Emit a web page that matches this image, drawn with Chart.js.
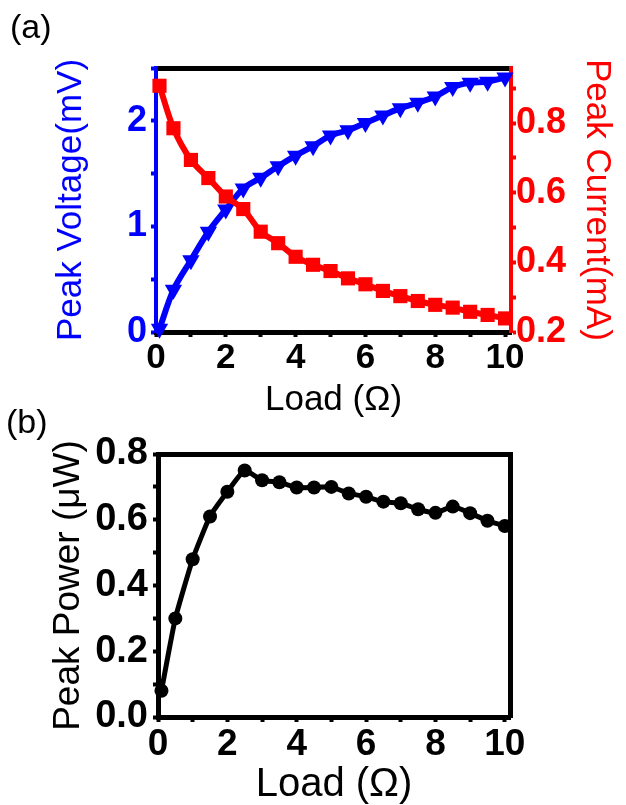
<!DOCTYPE html>
<html>
<head>
<meta charset="utf-8">
<script src="https://cdn.jsdelivr.net/npm/chart.js@4.4.0/dist/chart.umd.min.js"></script>
<style>
	html, body { margin: 0; padding: 0; background: #fff; overflow: hidden; }
	#wrap { position: relative; width: 626px; height: 805px; }
	canvas { position: absolute; left: 0; }
	.tag { position: absolute; font-family: "Liberation Sans", Arial, sans-serif; font-size: 34px; color: #000; }
</style>
</head>
<body>
<div id="wrap">
	<canvas id="chartA" width="626" height="425" style="top:0px"></canvas>
	<canvas id="chartB" width="626" height="380" style="top:425px"></canvas>
	<div class="tag" style="left:10px; top:7px;">(a)</div>
	<div class="tag" style="left:6px; top:402px;">(b)</div>
</div>
<script>
// values, load in ohm
const loads = [0.1, 0.5, 1, 1.5, 2, 2.5, 3, 3.5, 4, 4.5, 5, 5.5, 6, 6.5, 7, 7.5, 8, 8.5, 9, 9.5, 10];
const peakVoltage = [0.03, 0.40, 0.68, 0.95, 1.16, 1.36, 1.46, 1.57, 1.67, 1.76, 1.86, 1.91, 1.98, 2.05, 2.12, 2.17, 2.23, 2.32, 2.36, 2.37, 2.41];
const peakCurrent = [0.907, 0.785, 0.694, 0.642, 0.589, 0.553, 0.488, 0.455, 0.416, 0.393, 0.375, 0.354, 0.337, 0.318, 0.303, 0.289, 0.278, 0.270, 0.258, 0.249, 0.239];
const peakPower = [0.08, 0.30, 0.48, 0.61, 0.685, 0.75, 0.72, 0.714, 0.698, 0.698, 0.70, 0.68, 0.67, 0.655, 0.65, 0.632, 0.621, 0.64, 0.62, 0.597, 0.581];

// tick marks (all) and the ones that get a label
const loadTicks = [0, 1, 2, 3, 4, 5, 6, 7, 8, 9, 10];
const loadLabels = [0, 2, 4, 6, 8, 10];
const voltTicks = [0, 0.5, 1, 1.5, 2, 2.5];
const voltLabels = [0, 1, 2];
const currentTicks = [0.2, 0.3, 0.4, 0.5, 0.6, 0.7, 0.8, 0.9];
const currentLabels = [0.2, 0.4, 0.6, 0.8];
const powerTicks = [0, 0.1, 0.2, 0.3, 0.4, 0.5, 0.6, 0.7, 0.8];
const powerLabels = [0, 0.2, 0.4, 0.6, 0.8];

const BLUE = 'rgb(0,0,255)';
const RED = 'rgb(255,0,0)';
const BLACK = '#000';
const FONT = '"Liberation Sans", Arial, sans-serif';

function pairs(xs, ys) {
	return xs.map((x, i) => ({x: x, y: ys[i]}));
}

function hasLabel(list, v) {
	return list.some(l => Math.abs(l - v) < 1e-6);
}

// axis with fixed box size, custom tick set and bold labels
function axis(o) {
	return {
		type: 'linear',
		position: o.position,
		min: o.min,
		max: o.max,
		afterBuildTicks: s => { s.ticks = o.ticks.map(v => ({value: v})); },
		afterFit: s => {
			if (o.position === 'left' || o.position === 'right') s.width = o.size;
			else s.height = o.size;
		},
		border: {display: true, color: o.color, width: o.borderWidth || 4},
		grid: {display: true, drawOnChartArea: false, drawTicks: true, tickLength: 5, tickWidth: 4, tickColor: o.color},
		ticks: {
			color: o.color,
			padding: o.pad,
			autoSkip: false,
			maxRotation: 0,
			minRotation: 0,
			font: {family: FONT, size: o.tickSize, weight: 'bold', lineHeight: 1},
			callback: v => hasLabel(o.labels, v) ? v.toFixed(o.digits) : ''
		},
		title: {
			display: true,
			text: o.title,
			color: o.color,
			font: {family: FONT, size: o.titleSize, lineHeight: 1},
			padding: {top: o.titlePad, bottom: o.titlePad}
		}
	};
}

// plain border line (top frame / right frame)
function frame(position, size, width) {
	return {
		type: 'linear',
		position: position,
		min: 0,
		max: 1,
		afterFit: s => {
			if (position === 'right') s.width = size;
			else s.height = size;
		},
		border: {display: true, color: BLACK, width: width},
		grid: {display: false},
		ticks: {display: false}
	};
}

new Chart(document.getElementById('chartA'), {
	type: 'line',
	data: {
		datasets: [{
			label: 'Peak Current',
			yAxisID: 'y1',
			data: pairs(loads, peakCurrent),
			borderColor: RED,
			backgroundColor: RED,
			borderWidth: 6,
			pointStyle: 'rect',
			pointRadius: 10,
			pointBorderWidth: 0,
			tension: 0.3,
			clip: false
		}, {
			label: 'Peak Voltage',
			yAxisID: 'y',
			data: pairs(loads, peakVoltage),
			borderColor: BLUE,
			backgroundColor: BLUE,
			borderWidth: 6,
			pointStyle: 'triangle',
			pointRotation: 180,
			pointRadius: 10,
			pointBorderWidth: 0,
			tension: 0.3,
			clip: false
		}]
	},
	options: {
		responsive: false,
		animation: false,
		layout: {padding: {top: 68, left: 0, right: 0, bottom: 0}},
		plugins: {legend: {display: false}, tooltip: {enabled: false}},
		scales: {
			x: axis({position: 'bottom', min: 0, max: 10.17, ticks: loadTicks, labels: loadLabels, digits: 0,
				color: BLACK, borderWidth: 5, size: 93, pad: 4, tickSize: 35, title: 'Load (\u03A9)', titleSize: 35, titlePad: 7}),
			xt: frame('top', 0, 5),
			y: axis({position: 'left', min: 0, max: 2.5, ticks: voltTicks, labels: voltLabels, digits: 0,
				color: BLUE, size: 156, pad: 4, tickSize: 36, title: 'Peak Voltage(mV)', titleSize: 35, titlePad: 54}),
			y1: axis({position: 'right', min: 0.2, max: 0.958, ticks: currentTicks, labels: currentLabels, digits: 1,
				color: RED, size: 115, pad: 0, tickSize: 36, title: 'Peak Current(mA)', titleSize: 35, titlePad: 12})
		}
	}
});

new Chart(document.getElementById('chartB'), {
	type: 'line',
	data: {
		datasets: [{
			label: 'Peak Power',
			data: pairs(loads, peakPower),
			borderColor: BLACK,
			backgroundColor: BLACK,
			borderWidth: 5,
			pointStyle: 'circle',
			pointRadius: 7,
			pointBorderWidth: 0,
			tension: 0.15,
			clip: false
		}]
	},
	options: {
		responsive: false,
		animation: false,
		layout: {padding: {top: 29, left: 0, right: 0, bottom: 0}},
		plugins: {legend: {display: false}, tooltip: {enabled: false}},
		scales: {
			x: axis({position: 'bottom', min: 0, max: 10.15, ticks: loadTicks, labels: loadLabels, digits: 0,
				color: BLACK, borderWidth: 5, size: 88, pad: 4, tickSize: 37, title: 'Load (\u03A9)', titleSize: 40, titlePad: 0}),
			xt: frame('top', 0, 5),
			y: axis({position: 'left', min: 0, max: 0.8, ticks: powerTicks, labels: powerLabels, digits: 1,
				color: BLACK, borderWidth: 5, size: 158, pad: 5, tickSize: 38, title: 'Peak Power (\u03BCW)', titleSize: 37, titlePad: 50}),
			yr: frame('right', 116, 5)
		}
	}
});
</script>
</body>
</html>
